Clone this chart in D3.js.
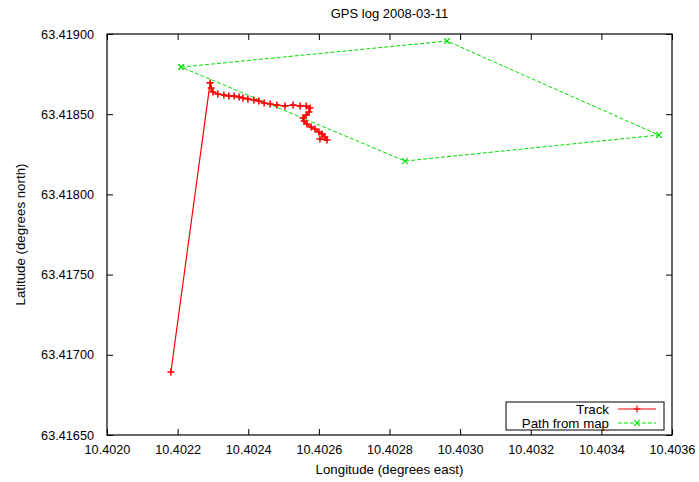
<!DOCTYPE html>
<html>
<head>
<meta charset="utf-8">
<script src="https://cdn.jsdelivr.net/npm/d3@7"></script>
<style>
  body { margin: 0; background: #fff; }
  svg text { font-family: "Liberation Sans", Arial, Helvetica, sans-serif; }
</style>
</head>
<body>
<svg id="chart" width="699" height="482"></svg>
<script>
// GPS track (longitude, latitude)
const trackLon = [10.402181, 10.402292, 10.402295, 10.402300, 10.402314, 10.402331, 10.402345,
  10.402360, 10.402374, 10.402385, 10.402399, 10.402416, 10.402430, 10.402445, 10.402462,
  10.402481, 10.402504, 10.402527, 10.402547, 10.402564, 10.402575, 10.402572, 10.402564,
  10.402555, 10.402558, 10.402566, 10.402578, 10.402589, 10.402600, 10.402609, 10.402617,
  10.402623, 10.402603];
const trackLat = [63.416893, 63.418695, 63.418663, 63.418638, 63.418626, 63.418620, 63.418613,
  63.418613, 63.418607, 63.418601, 63.418595, 63.418589, 63.418582, 63.418570, 63.418564,
  63.418557, 63.418551, 63.418557, 63.418551, 63.418551, 63.418539, 63.418514, 63.418495,
  63.418476, 63.418458, 63.418439, 63.418420, 63.418408, 63.418389, 63.418377, 63.418358,
  63.418339, 63.418345];

// path from map
const mapLon = [10.402210, 10.402963, 10.403563, 10.402844, 10.402210];
const mapLat = [63.418794, 63.418956, 63.418370, 63.418208, 63.418794];

const xTicks = [10.4020, 10.4022, 10.4024, 10.4026, 10.4028, 10.4030, 10.4032, 10.4034, 10.4036];
const yTicks = [63.4165, 63.4170, 63.4175, 63.4180, 63.4185, 63.4190];

const svg = d3.select('#chart');
const plotL = 107, plotR = 672, plotT = 34, plotB = 435;

let x = d3.scaleLinear().domain([10.4020, 10.4036]).range([plotL, plotR]);
let y = d3.scaleLinear().domain([63.4165, 63.4190]).range([plotB, plotT]);

const track = trackLon.map((d, i) => [d, trackLat[i]]);
const mapPath = mapLon.map((d, i) => [d, mapLat[i]]);

// ticks, inward and mirrored like gnuplot
let g = svg.append('g');
g.append('g').attr('transform', `translate(0,${plotB})`)
  .call(d3.axisBottom(x).tickValues(xTicks).tickSizeInner(-6).tickSizeOuter(0).tickPadding(10).tickFormat(d3.format('.4f')));
g.append('g').attr('transform', `translate(0,${plotT})`)
  .call(d3.axisTop(x).tickValues(xTicks).tickSizeInner(-6).tickSizeOuter(0).tickFormat(''));
g.append('g').attr('transform', `translate(${plotL},0)`)
  .call(d3.axisLeft(y).tickValues(yTicks).tickSizeInner(-6).tickSizeOuter(0).tickPadding(13).tickFormat(d3.format('.5f')));
g.append('g').attr('transform', `translate(${plotR},0)`)
  .call(d3.axisRight(y).tickValues(yTicks).tickSizeInner(-6).tickSizeOuter(0).tickFormat(''));
g.selectAll('.domain').remove();
g.selectAll('.tick line').attr('stroke', '#000');
g.selectAll('.tick text').attr('font-size', '12.7px').attr('fill', '#000')
  .attr('font-family', '"Liberation Sans", Arial, sans-serif');

svg.append('rect').attr('x', plotL).attr('y', plotT)
  .attr('width', plotR - plotL).attr('height', plotB - plotT)
  .attr('fill', 'none').attr('stroke', '#000').attr('stroke-width', 1.2);

// lines
let line = d3.line().x(d => x(d[0])).y(d => y(d[1]));
svg.append('path').datum(mapPath).attr('d', line)
  .attr('fill', 'none').attr('stroke', '#00e000').attr('stroke-width', 1)
  .attr('stroke-dasharray', '4,2');
svg.append('path').datum(track).attr('d', line)
  .attr('fill', 'none').attr('stroke', '#ff0000').attr('stroke-width', 1.2);

function plus(sel, s) { return sel.attr('d', `M${-s},0H${s}M0,${-s}V${s}`); }
function cross(sel, s) { return sel.attr('d', `M${-s},${-s}L${s},${s}M${-s},${s}L${s},${-s}`); }

svg.append('g').selectAll('path').data(track).enter().append('path')
  .attr('transform', d => `translate(${x(d[0])},${y(d[1])})`)
  .call(plus, 3.5).attr('stroke', '#ff0000').attr('stroke-width', 1.6);
svg.append('g').selectAll('path').data(mapPath).enter().append('path')
  .attr('transform', d => `translate(${x(d[0])},${y(d[1])})`)
  .call(cross, 2.8).attr('stroke', '#00e000').attr('stroke-width', 1.2);

// title and axis labels
svg.append('text').attr('x', (plotL + plotR) / 2).attr('y', 18)
  .attr('text-anchor', 'middle').attr('font-size', '13px').text('GPS log 2008-03-11');
svg.append('text').attr('x', (plotL + plotR) / 2).attr('y', 474)
  .attr('text-anchor', 'middle').attr('font-size', '13.3px').text('Longitude (degrees east)');
svg.append('text').attr('transform', `translate(25,${(plotT + plotB) / 2}) rotate(-90)`)
  .attr('text-anchor', 'middle').attr('font-size', '13.3px').text('Latitude (degrees north)');

// legend
let legend = svg.append('g');
legend.append('rect').attr('x', 506).attr('y', 402).attr('width', 158).attr('height', 28)
  .attr('fill', '#fff').attr('stroke', '#000').attr('stroke-width', 1);
const legendRows = [
  { name: 'Track', color: '#ff0000', dash: null, mark: plus, size: 3.5 },
  { name: 'Path from map', color: '#00e000', dash: '4,2', mark: cross, size: 2.8 }
];
legendRows.forEach((r, i) => {
  let yy = 409 + i * 14;
  legend.append('text').attr('x', 609).attr('y', yy + 4.7).attr('text-anchor', 'end')
    .attr('font-size', '13.3px').text(r.name);
  legend.append('line').attr('x1', 618).attr('x2', 656).attr('y1', yy).attr('y2', yy)
    .attr('stroke', r.color).attr('stroke-dasharray', r.dash);
  legend.append('path').attr('transform', `translate(637,${yy})`)
    .call(r.mark, r.size).attr('stroke', r.color).attr('stroke-width', 1.2);
});
</script>
</body>
</html>
